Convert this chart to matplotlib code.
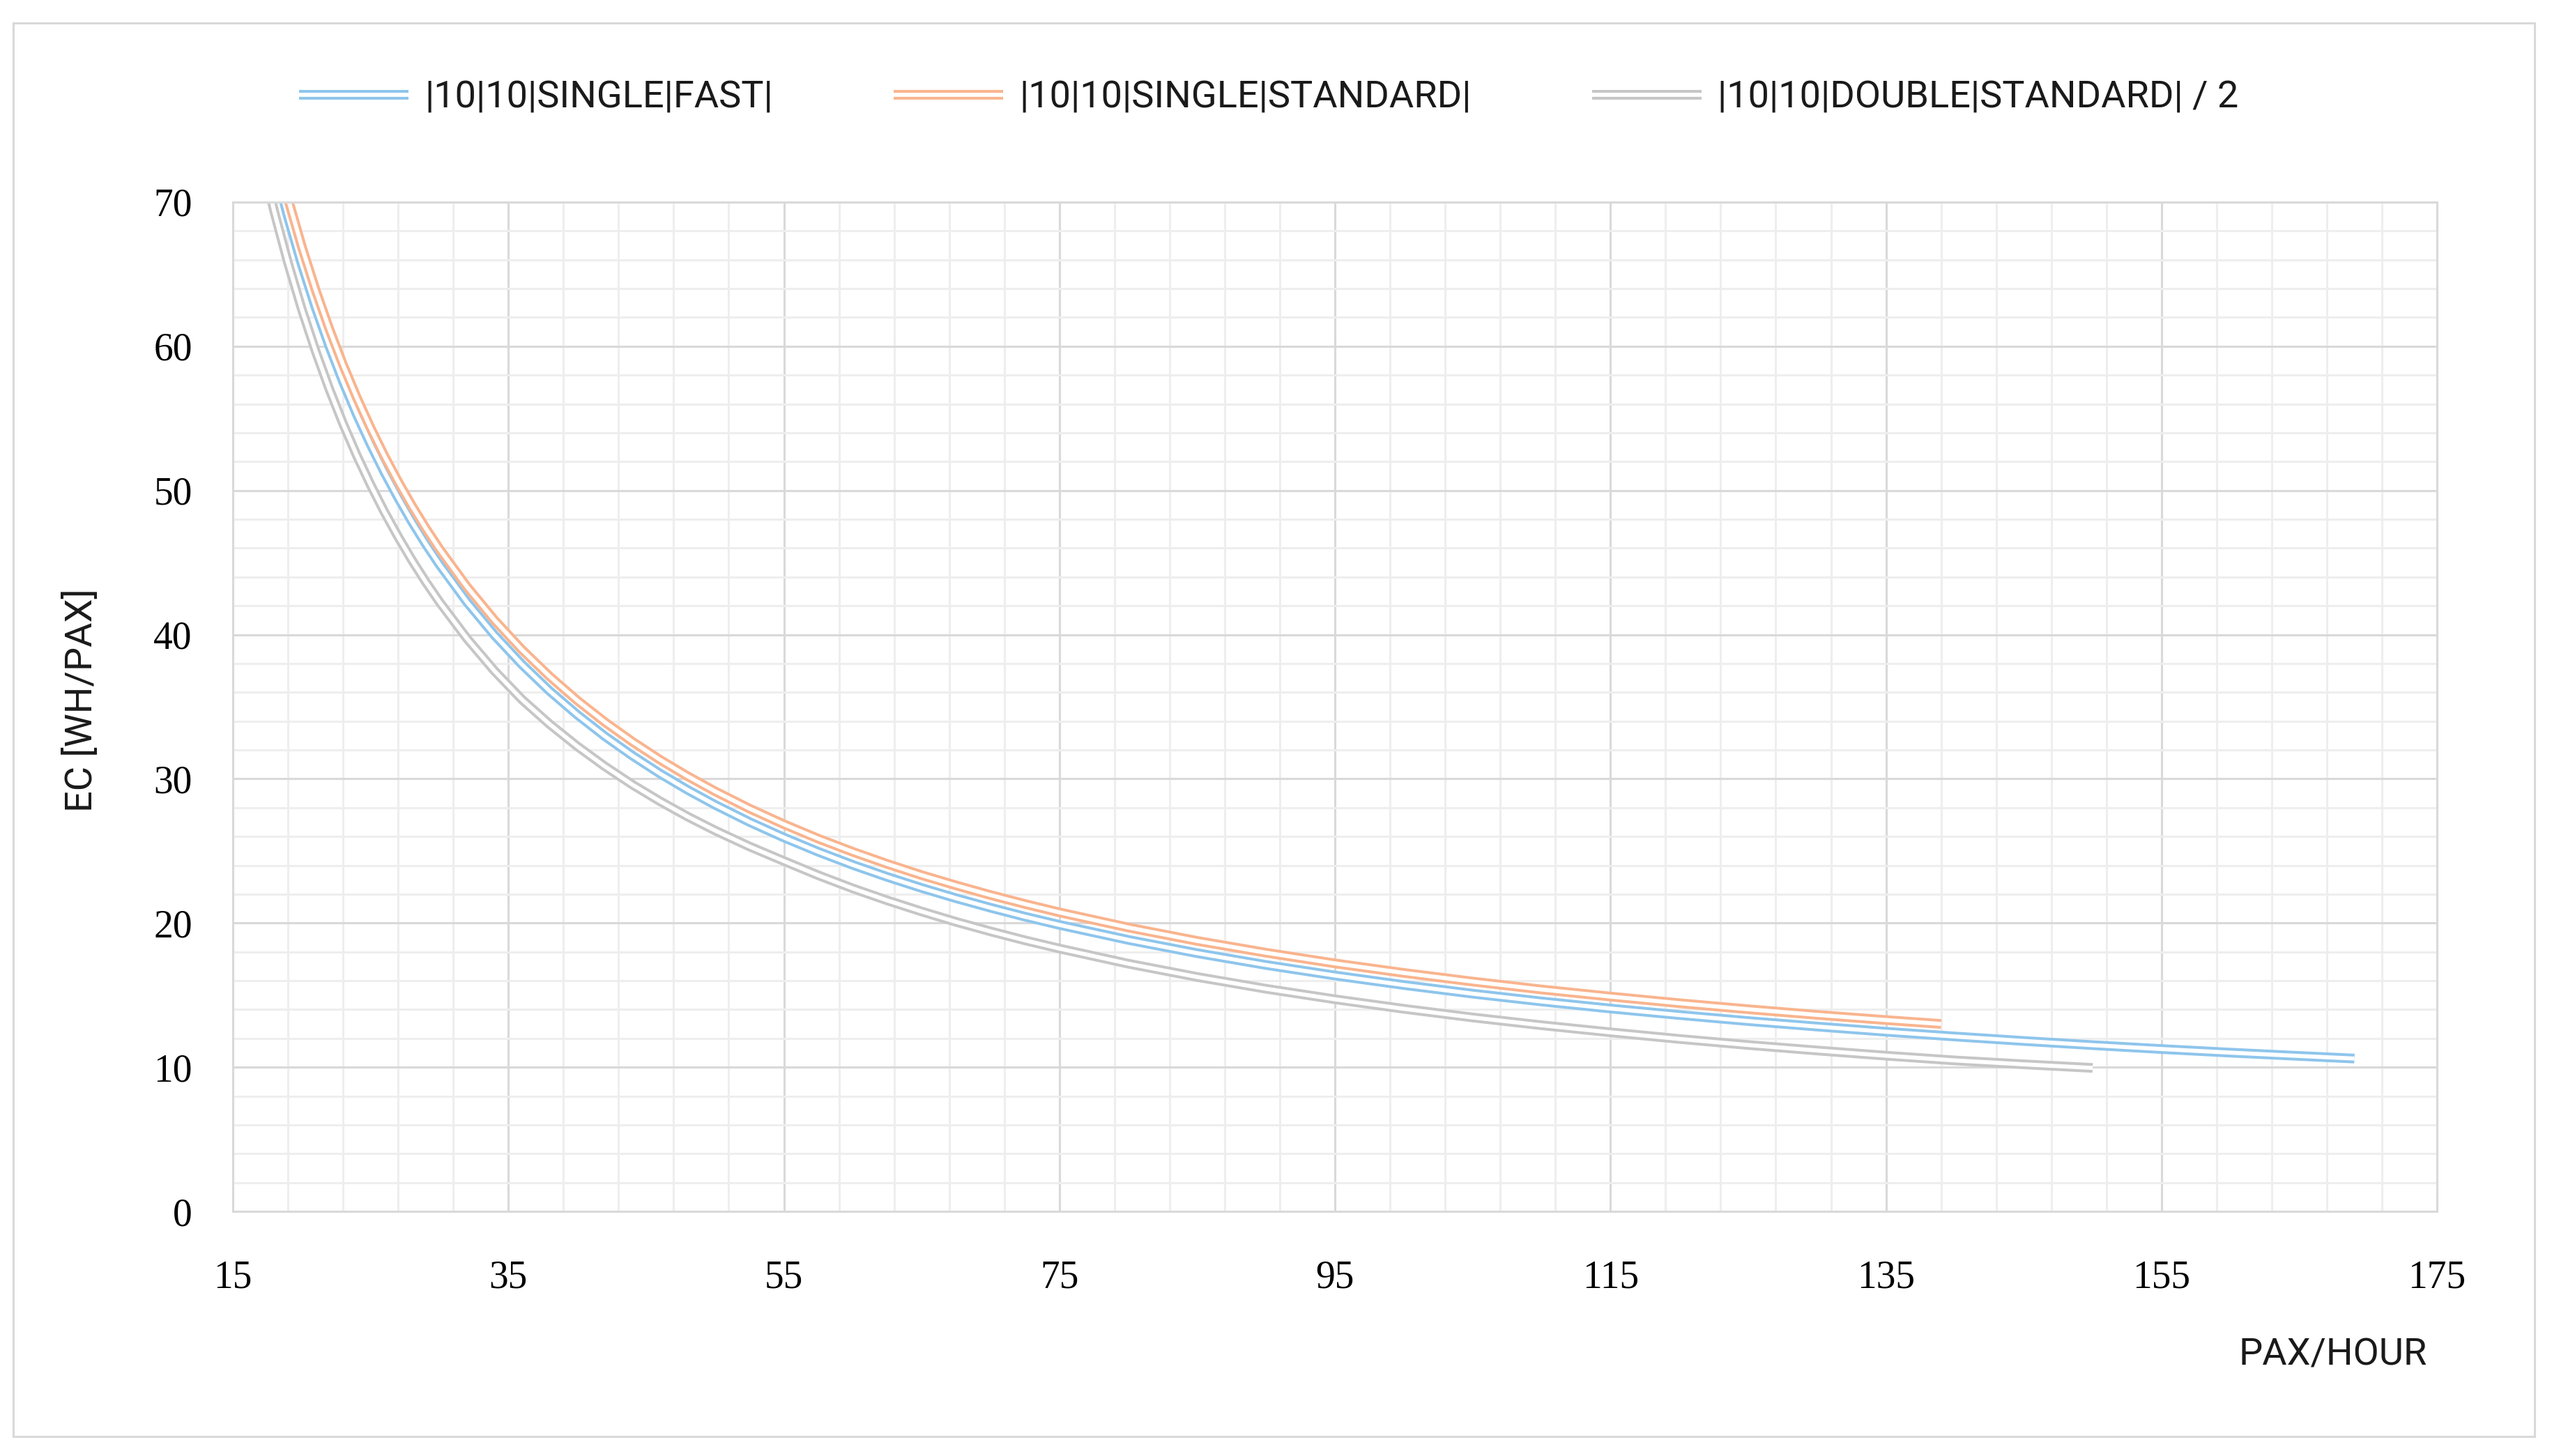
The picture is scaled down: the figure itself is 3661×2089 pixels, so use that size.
import matplotlib
matplotlib.use("Agg")
import matplotlib.pyplot as plt
import matplotlib.patheffects as pe
from matplotlib.patches import Rectangle

# series
x_fast = [18, 19, 20, 21, 22, 23, 24, 25, 26, 27, 28, 29, 30, 32, 34, 36, 38, 40, 42, 44, 46, 48, 50,
          52.5, 55, 57.5, 60, 62.5, 65, 67.5, 70, 72.5, 75, 80, 85, 90, 95, 100, 105, 110, 115, 120,
          125, 130, 135, 140, 145, 150, 155, 160, 165, 169]
ec_fast = [72.64, 68.99, 65.70, 62.72, 60.02, 57.55, 55.28, 53.20, 51.28, 49.50, 47.84, 46.30, 44.87,
           42.26, 39.96, 37.92, 36.09, 34.45, 32.96, 31.61, 30.37, 29.24, 28.20, 27.01, 25.93, 24.94,
           24.03, 23.20, 22.43, 21.72, 21.06, 20.44, 19.87, 18.83, 17.91, 17.09, 16.36, 15.70, 15.10,
           14.56, 14.07, 13.62, 13.20, 12.82, 12.46, 12.13, 11.82, 11.53, 11.26, 11.01, 10.78, 10.60]

x_std = [18, 19, 20, 21, 22, 23, 24, 25, 26, 27, 28, 29, 30, 32, 34, 36, 38, 40, 42, 44, 46, 48, 50,
         52.5, 55, 57.5, 60, 62.5, 65, 67.5, 70, 72.5, 75, 80, 85, 90, 95, 100, 105, 110, 115, 120,
         125, 130, 135, 139]
ec_std = [73.94, 70.26, 66.94, 63.94, 61.21, 58.72, 56.44, 54.34, 52.40, 50.61, 48.94, 47.39, 45.94,
          43.32, 41.00, 38.94, 37.10, 35.44, 33.94, 32.58, 31.33, 30.19, 29.14, 27.94, 26.85, 25.85,
          24.94, 24.10, 23.32, 22.61, 21.94, 21.32, 20.74, 19.69, 18.76, 17.94, 17.20, 16.54, 15.94,
          15.39, 14.90, 14.44, 14.02, 13.63, 13.27, 13.00]

x_double = [17, 18, 19, 20, 21, 22, 23, 24, 25, 26, 27, 28, 29, 30, 32, 34, 36, 38, 40, 42, 44, 46,
            48, 50, 52.5, 55, 57.5, 60, 62.5, 65, 67.5, 70, 72.5, 75, 80, 85, 90, 95, 100, 105, 110,
            115, 120, 125, 130, 135, 140, 145, 150]
ec_double = [73.36, 69.38, 65.81, 62.60, 59.70, 57.05, 54.64, 52.43, 50.40, 48.52, 46.79, 45.17,
             43.67, 42.27, 39.73, 37.48, 35.49, 33.79, 32.26, 30.87, 29.60, 28.45, 27.39, 26.42,
             25.31, 24.30, 23.31, 22.40, 21.57, 20.80, 20.08, 19.42, 18.80, 18.23, 17.18, 16.26,
             15.44, 14.71, 14.05, 13.45, 12.91, 12.42, 11.96, 11.54, 11.16, 10.80, 10.47, 10.20,
             9.95]

labels = ["|10|10|SINGLE|FAST|", "|10|10|SINGLE|STANDARD|", "|10|10|DOUBLE|STANDARD| / 2"]
colors = ["#8ec5ec", "#f9b48e", "#c6c6c6"]

x_ticks = list(range(15, 176, 20))
y_ticks = list(range(0, 71, 10))

sans = ["Roboto", "DejaVu Sans"]
serif = ["Liberation Serif", "DejaVu Serif"]
txt_color = "#1a1a1a"

fig = plt.figure(figsize=(36.62, 20.89), dpi=100)
ax = fig.add_axes([0.0912, 0.168, 0.8635, 0.6932])

series = [(x_fast, ec_fast), (x_std, ec_std), (x_double, ec_double)]
for (xs, ys), lab, col in zip(series, labels, colors):
    # double (compound) line: coloured stroke with a white core
    ax.plot(xs, ys, color="white", lw=4.2, label=lab, solid_capstyle="butt",
            solid_joinstyle="round",
            path_effects=[pe.Stroke(linewidth=10, foreground=col, capstyle="butt", joinstyle="round"),
                          pe.Normal()])

ax.set_xlim(15, 175)
ax.set_ylim(0, 70)
ax.set_xticks(x_ticks)
ax.set_yticks(y_ticks)
ax.set_xticks(list(range(15, 176, 4)), minor=True)
ax.set_yticks(list(range(0, 71, 2)), minor=True)
ax.grid(which="minor", color="#eeeeee", lw=2.2)
ax.grid(which="major", color="#d9d9d9", lw=2.2)
ax.set_axisbelow(True)
ax.tick_params(which="both", length=0)
ax.tick_params(axis="x", pad=50)
ax.tick_params(axis="y", pad=42)
for t in ax.get_xticklabels() + ax.get_yticklabels():
    t.set_family(serif)
    t.set_fontsize(40)
for s in ax.spines.values():
    s.set_color("#d9d9d9")
    s.set_linewidth(2.2)

fig.text(0.032, 0.519, "EC [WH/PAX]", rotation=90, ha="center", va="center",
         family=sans, weight="normal", fontsize=39, color=txt_color)
fig.text(0.914, 0.0694, "PAX/HOUR", ha="center", va="center",
         family=sans, weight="normal", fontsize=39, color=txt_color)

leg = fig.legend(loc="center", bbox_to_anchor=(0.497, 1 - 140 / 2089), ncol=3, frameon=False,
                 handlelength=2.9, handletextpad=0.42, columnspacing=3.2,
                 prop={"family": sans, "weight": "normal", "size": 39})
for t in leg.get_texts():
    t.set_color(txt_color)

fig.add_artist(Rectangle((0.0052, 0.0134), 0.9877, 0.9708, transform=fig.transFigure,
                         fill=False, edgecolor="#d9d9d9", lw=2.2))

fig.savefig("out.png", dpi=100, facecolor="white")
